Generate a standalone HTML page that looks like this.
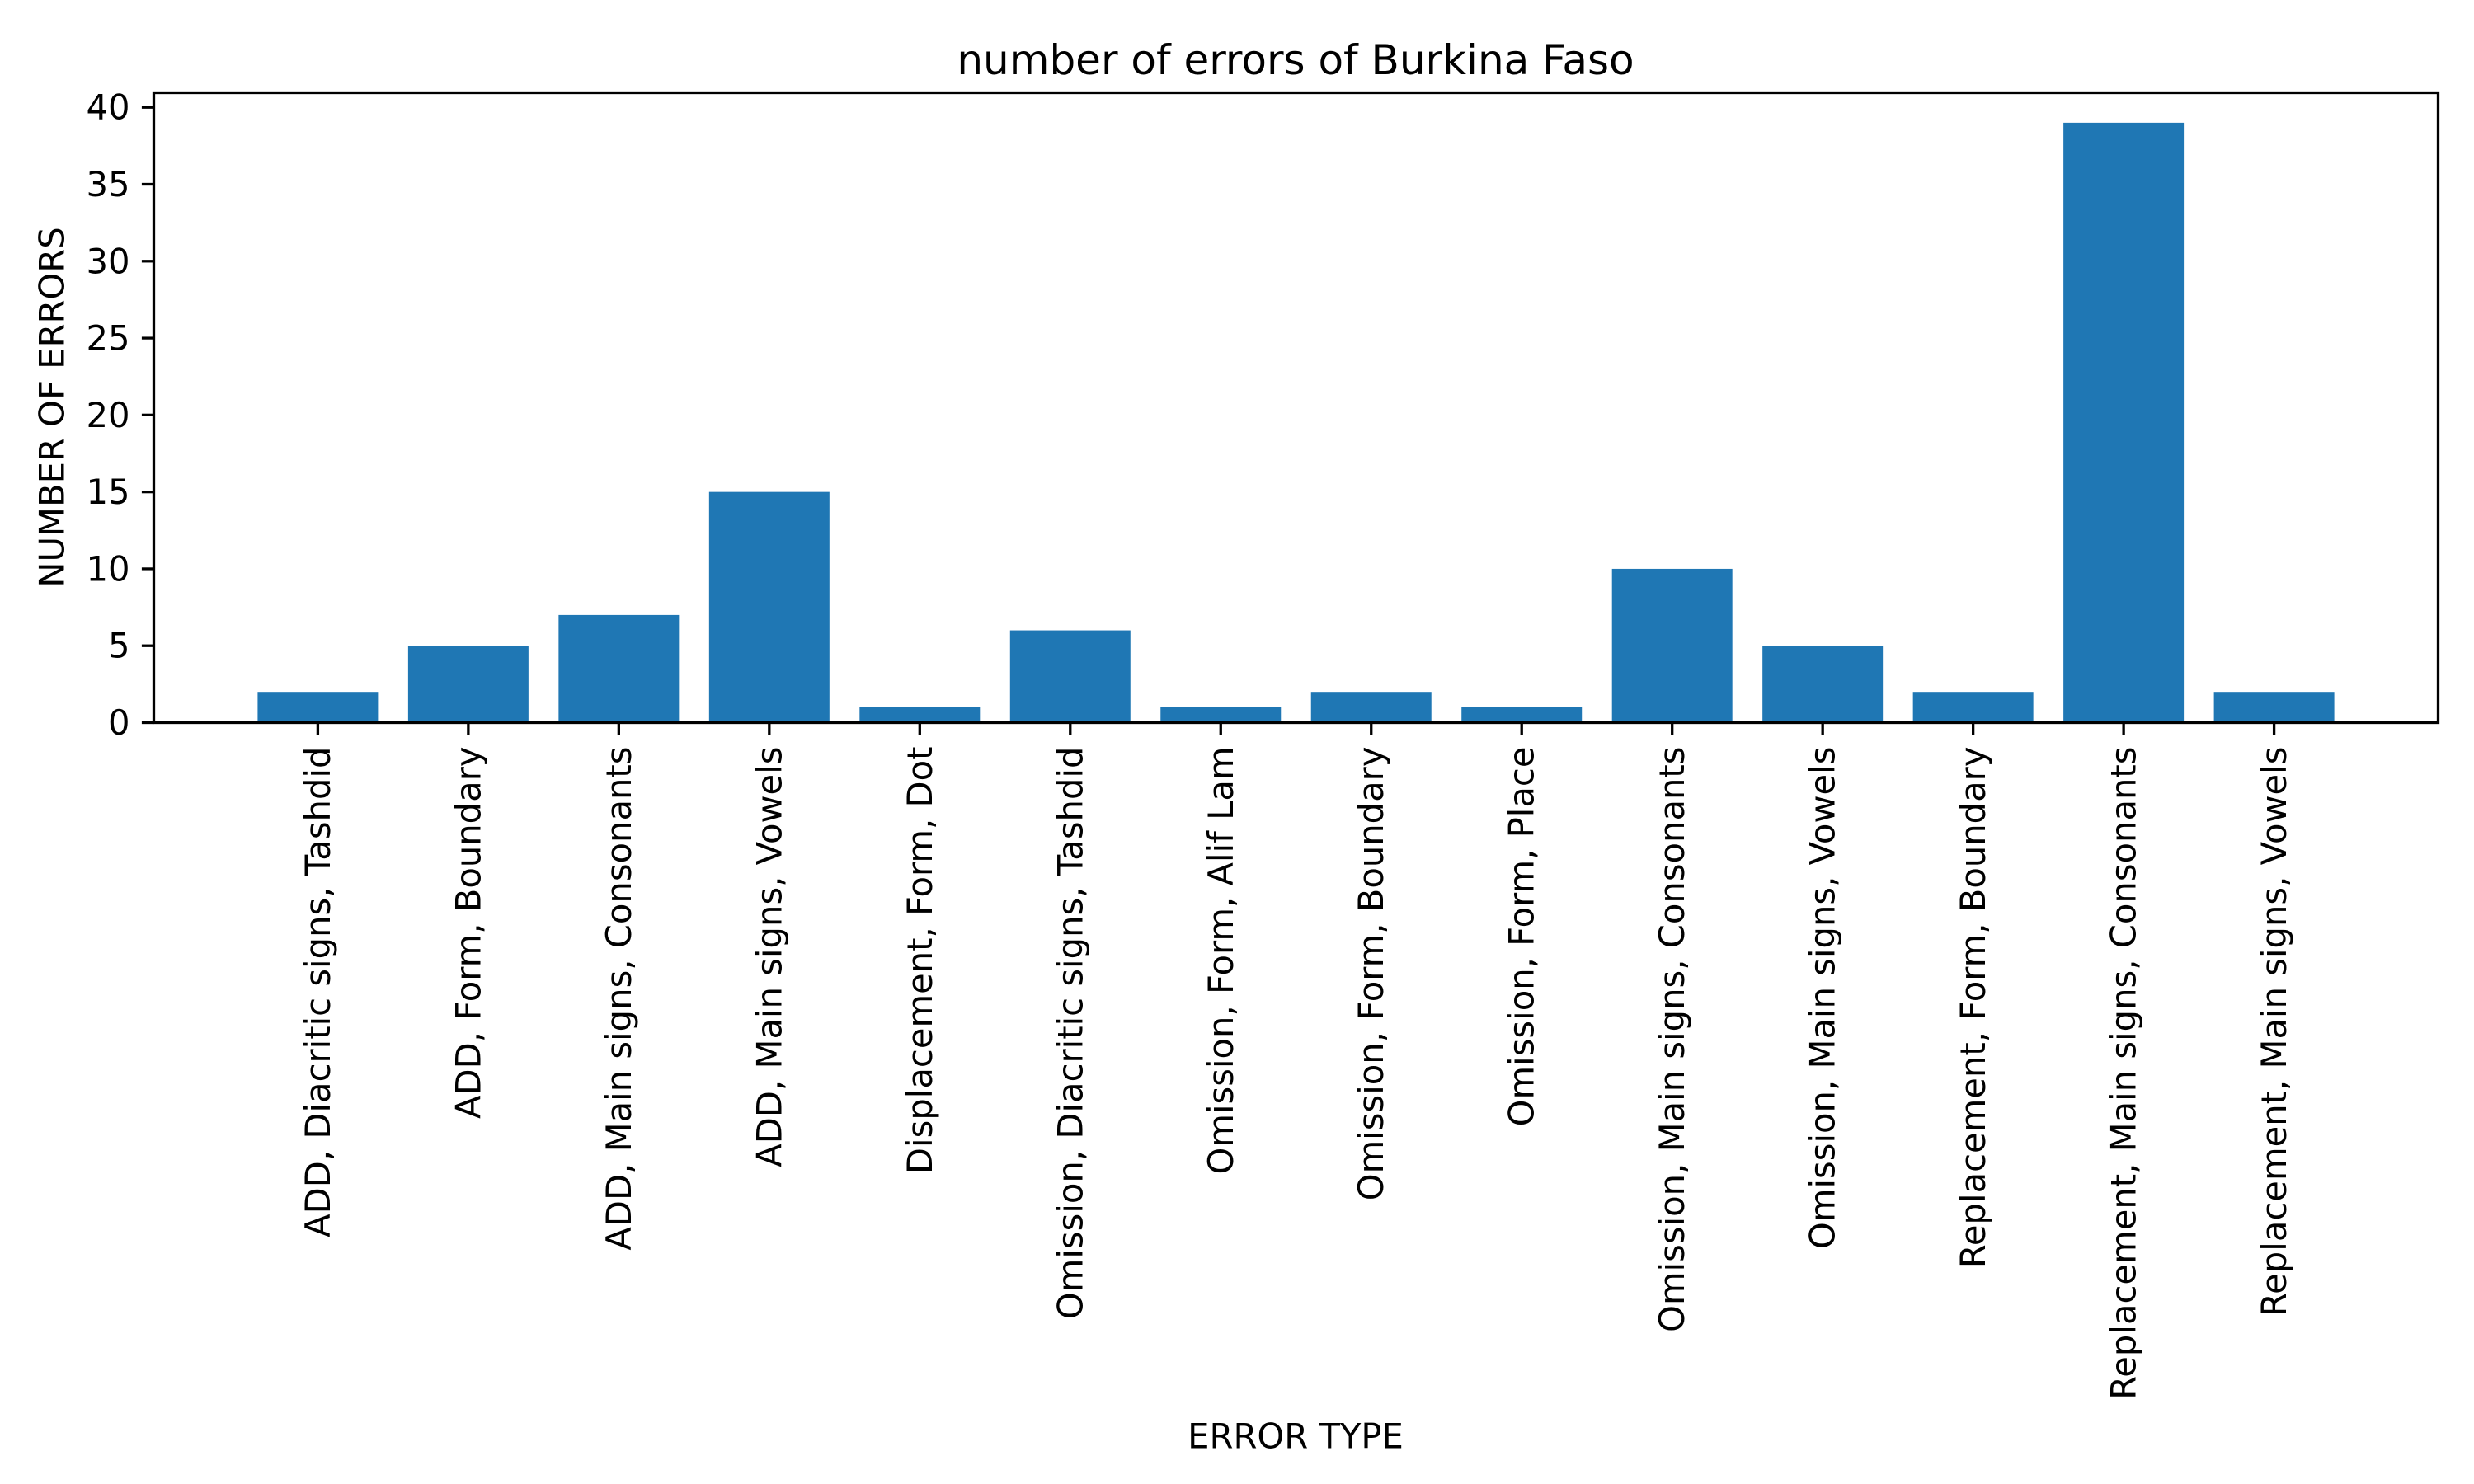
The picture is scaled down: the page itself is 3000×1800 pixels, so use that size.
<!DOCTYPE html>
<html><head><meta charset="utf-8"><style>
html,body{margin:0;padding:0;background:#fff;}
svg{display:block;font-family:"DejaVu Sans","Liberation Sans",sans-serif;}
</style></head><body>
<svg id="chart" width="3000" height="1800" viewBox="0 0 3000 1800" xmlns="http://www.w3.org/2000/svg">
<rect width="3000" height="1800" fill="#fff"/>
<text x="1571" y="73" font-size="50" text-anchor="middle" dominant-baseline="central">number of errors of Burkina Faso</text>
<text x="1571" y="1742" font-size="41.7" text-anchor="middle" dominant-baseline="central">ERROR TYPE</text>
<text transform="translate(63,494) rotate(-90)" font-size="41.7" text-anchor="middle" dominant-baseline="central">NUMBER OF ERRORS</text>
<g id="bars"></g><g id="ticks"></g>
<rect x="186.5" y="112.5" width="2770" height="764" fill="none" stroke="#000" stroke-width="3.3"/>
</svg>
<script>
const categories = ["ADD, Diacritic signs, Tashdid","ADD, Form, Boundary","ADD, Main signs, Consonants","ADD, Main signs, Vowels","Displacement, Form, Dot","Omission, Diacritic signs, Tashdid","Omission, Form, Alif Lam","Omission, Form, Boundary","Omission, Form, Place","Omission, Main signs, Consonants","Omission, Main signs, Vowels","Replacement, Form, Boundary","Replacement, Main signs, Consonants","Replacement, Main signs, Vowels"];
const errorCounts = [2,5,7,15,1,6,1,2,1,10,5,2,39,2];
const yTicks = [0,5,10,15,20,25,30,35,40];

const NS="http://www.w3.org/2000/svg";
const L=186.5,R=2956.5,T=112.5,B=876.5;
const n=categories.length;
const xmin=-0.4-(n-0.2)*0.05, xmax=n-1+0.4+(n-0.2)*0.05;
const ymax=Math.max(...errorCounts)*1.05;
const xs=v=>L+(v-xmin)/(xmax-xmin)*(R-L);
const ys=v=>B-v/ymax*(B-T);
const bars=document.getElementById('bars'), ticks=document.getElementById('ticks');
function mk(tag,attrs,parent){const e=document.createElementNS(NS,tag);for(const k in attrs)e.setAttribute(k,attrs[k]);parent.appendChild(e);return e;}
errorCounts.forEach((v,i)=>{
  const r=mk('rect',{x:xs(i-0.4),y:ys(v),width:xs(i+0.4)-xs(i-0.4),height:ys(0)-ys(v),fill:'#1f77b4'},bars);
  
  
  const tk=mk('line',{x1:xs(i),x2:xs(i),y1:B,y2:B+14.6,stroke:'#000','stroke-width':3.3},ticks);
  
  
  const t=mk('text',{transform:`translate(${xs(i)},${B+29}) rotate(-90)`,'font-size':41.7,'text-anchor':'end','dominant-baseline':'central'},ticks);
  t.textContent=categories[i];
  
  
});
yTicks.forEach(v=>{
  const tk=mk('line',{x1:L-14.6,x2:L,y1:ys(v),y2:ys(v),stroke:'#000','stroke-width':3.3},ticks);
  
  
  const t=mk('text',{x:L-29,y:ys(v),'font-size':41.7,'text-anchor':'end','dominant-baseline':'central'},ticks);
  t.textContent=v;
  
  
});
</script>
</body></html>
